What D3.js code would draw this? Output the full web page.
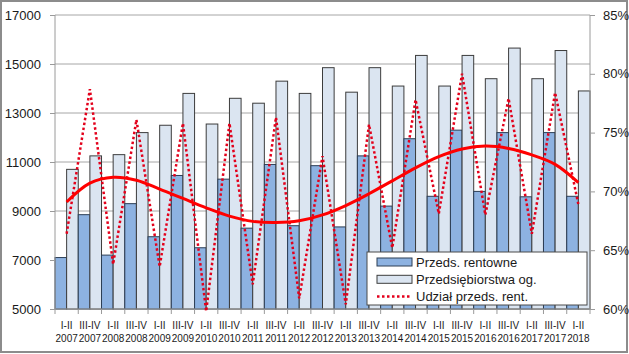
<!DOCTYPE html>
<meta charset="utf-8">
<style>
    body { margin: 0; background: #fff; }
    text { font-family: "Liberation Sans", Arial, sans-serif; fill: #1a1a1a; }
    .grid line { stroke: #a6a6a6; stroke-width: 1px; }
    .axis path, .axis line { stroke: #9a9a9a; }
</style>
<body>
    <script src="https://d3js.org/d3.v7.min.js"></script>
    <script>
        // half-year periods and years
        var halves = ["I-II", "III-IV", "I-II", "III-IV", "I-II", "III-IV", "I-II", "III-IV", "I-II", "III-IV", "I-II", "III-IV",
                      "I-II", "III-IV", "I-II", "III-IV", "I-II", "III-IV", "I-II", "III-IV", "I-II", "III-IV", "I-II"];
        var years = [2007, 2007, 2008, 2008, 2009, 2009, 2010, 2010, 2011, 2011, 2012, 2012,
                     2013, 2013, 2014, 2014, 2015, 2015, 2016, 2016, 2017, 2017, 2018];

        // Przeds. rentowne
        var rentowne = [7100, 8850, 7200, 9300, 7950, 10450, 7500, 10300, 8300, 10900, 8400, 10850,
                        8350, 11250, 9200, 11950, 9600, 12300, 9800, 12200, 9580, 12200, 9600];
        // Przedsiębiorstwa og.
        var ogolem = [10700, 11250, 11300, 12200, 12500, 13800, 12550, 13600, 13400, 14300, 13800, 14850,
                      13850, 14850, 14100, 15350, 14100, 15350, 14400, 15650, 14400, 15550, 13900];
        // Udział przeds. rent. (%)
        var udzial = [66.4, 78.7, 63.8, 76.1, 63.6, 75.8, 59.8, 75.8, 62.1, 76.3, 60.9, 73.0,
                      60.4, 75.7, 65.2, 77.8, 68.1, 80.0, 68.0, 77.9, 66.4, 78.4, 68.9];
        // trend line (%)
        var trend = [69.1, 70.7, 71.2, 70.95, 70.2, 69.4, 68.6, 67.9, 67.45, 67.35, 67.5, 68.0,
                     68.8, 69.8, 70.9, 72.0, 72.95, 73.6, 73.85, 73.65, 73.1, 72.3, 70.75];

        var leftTicks = [5000, 7000, 9000, 11000, 13000, 15000, 17000];
        var rightTicks = [60, 65, 70, 75, 80, 85];
        var legendNames = ["Przeds. rentowne", "Przedsiębiorstwa og.", "Udział przeds. rent."];

        var width = 629,
            height = 354;
        var plotL = 55, plotR = 590, plotT = 15, plotB = 309;

        var svg = d3.select("body").append("svg")
            .attr("width", width)
            .attr("height", height);

        // outer frame
        svg.append("rect")
            .attr("x", 1).attr("y", 1)
            .attr("width", width - 3).attr("height", height - 3)
            .attr("fill", "#fff")
            .attr("stroke", "#8c8c8c")
            .attr("stroke-width", 2);

        var idx = d3.range(halves.length);

        var x = d3.scaleBand().domain(idx).range([plotL, plotR]).padding(0);
        var xs = d3.scaleBand().domain(["r", "o"]).range([0, x.bandwidth()]).padding(0);
        var yL = d3.scaleLinear().domain([5000, 17000]).range([plotB, plotT]);
        var yR = d3.scaleLinear().domain([60, 85]).range([plotB, plotT]);

        // gridlines
        svg.append("g").attr("class", "grid")
            .selectAll("line")
            .data(leftTicks)
            .enter().append("line")
            .attr("x1", plotL).attr("x2", plotR)
            .attr("y1", function(d) { return yL(d); })
            .attr("y2", function(d) { return yL(d); });

        // bars
        var cat = svg.append("g").selectAll("g")
            .data(idx)
            .enter().append("g")
            .attr("transform", function(i) { return "translate(" + x(i) + ",0)"; });

        cat.append("rect")
            .attr("x", xs("r"))
            .attr("y", function(i) { return yL(rentowne[i]); })
            .attr("width", xs.bandwidth())
            .attr("height", function(i) { return plotB - yL(rentowne[i]); })
            .attr("fill", "#8db2e1")
            .attr("stroke", "#2c3e55")
            .attr("stroke-width", 1);

        cat.append("rect")
            .attr("x", xs("o"))
            .attr("y", function(i) { return yL(ogolem[i]); })
            .attr("width", xs.bandwidth())
            .attr("height", function(i) { return plotB - yL(ogolem[i]); })
            .attr("fill", "#dbe5f1")
            .attr("stroke", "#3c3c3c")
            .attr("stroke-width", 1);

        // axes
        svg.append("g").attr("class", "axis")
            .attr("transform", "translate(" + plotL + ",0)")
            .call(d3.axisLeft(yL).tickValues(leftTicks).tickSize(5).tickPadding(9).tickFormat(d3.format("d")))
            .call(function(g) { g.select(".domain").attr("d", "M0," + plotT + "V" + plotB); })
            .selectAll("text").style("font-size", "13px");

        svg.append("g").attr("class", "axis")
            .attr("transform", "translate(" + plotR + ",0)")
            .call(d3.axisRight(yR).tickValues(rightTicks).tickSize(5).tickPadding(8).tickFormat(function(d) { return d + "%"; }))
            .call(function(g) { g.select(".domain").attr("d", "M0," + plotT + "V" + plotB); })
            .selectAll("text").style("font-size", "13px");

        var xg = svg.append("g").attr("class", "axis")
            .attr("transform", "translate(0," + plotB + ")")
            .call(d3.axisBottom(x).tickSize(0).tickFormat(""));
        xg.select(".domain").attr("d", "M" + plotL + ",0H" + plotR);

        // tick marks between categories
        xg.selectAll(".sep")
            .data(d3.range(halves.length + 1))
            .enter().append("line")
            .attr("class", "sep")
            .attr("x1", function(i) { return plotL + i * x.step(); })
            .attr("x2", function(i) { return plotL + i * x.step(); })
            .attr("y1", 0).attr("y2", 5);

        xg.selectAll(".tick").each(function(i) {
            var t = d3.select(this).select("text")
                .attr("y", 0).attr("dy", null)
                .style("font-size", "10px")
                .attr("fill", "#1a1a1a");
            t.append("tspan").attr("x", 0).attr("y", 20).text(halves[i]);
            t.append("tspan").attr("x", 0).attr("y", 33).text(years[i]);
        });

        // lines on the right axis
        var cx = function(d, i) { return x(i) + x.bandwidth() / 2; };

        var dotted = d3.line()
            .x(cx)
            .y(function(d) { return yR(d); });

        svg.append("path")
            .datum(udzial)
            .attr("d", dotted)
            .attr("fill", "none")
            .attr("stroke", "#e3001b")
            .attr("stroke-width", 2.5)
            .attr("stroke-dasharray", "2.5,2.5");

        var smooth = d3.line()
            .x(cx)
            .y(function(d) { return yR(d); })
            .curve(d3.curveCatmullRom.alpha(0.5));

        svg.append("path")
            .datum(trend)
            .attr("d", smooth)
            .attr("fill", "none")
            .attr("stroke", "#ff0000")
            .attr("stroke-width", 3);

        // legend
        var lg = svg.append("g").attr("transform", "translate(367,252)");
        lg.append("rect")
            .attr("width", 220).attr("height", 53)
            .attr("fill", "#fff")
            .attr("stroke", "#4a4a4a")
            .attr("stroke-width", 1);

        var item = lg.selectAll(".item")
            .data(legendNames)
            .enter().append("g")
            .attr("class", "item")
            .attr("transform", function(d, i) { return "translate(10," + (10 + i * 17.3) + ")"; });

        item.filter(function(d, i) { return i < 2; })
            .append("rect")
            .attr("x", 0).attr("y", -4)
            .attr("width", 35).attr("height", 8)
            .attr("fill", function(d, i) { return i === 0 ? "#8db2e1" : "#dbe5f1"; })
            .attr("stroke", function(d, i) { return i === 0 ? "#2c3e55" : "#3c3c3c"; });

        item.filter(function(d, i) { return i === 2; })
            .append("line")
            .attr("x1", 0).attr("x2", 35)
            .attr("y1", 0).attr("y2", 0)
            .attr("stroke", "#e3001b")
            .attr("stroke-width", 2.5)
            .attr("stroke-dasharray", "2.5,2.5");

        item.append("text")
            .attr("x", 39)
            .attr("y", 0)
            .attr("dy", "0.35em")
            .style("font-size", "13px")
            .text(function(d) { return d; });
    </script>
</body>
</html>
